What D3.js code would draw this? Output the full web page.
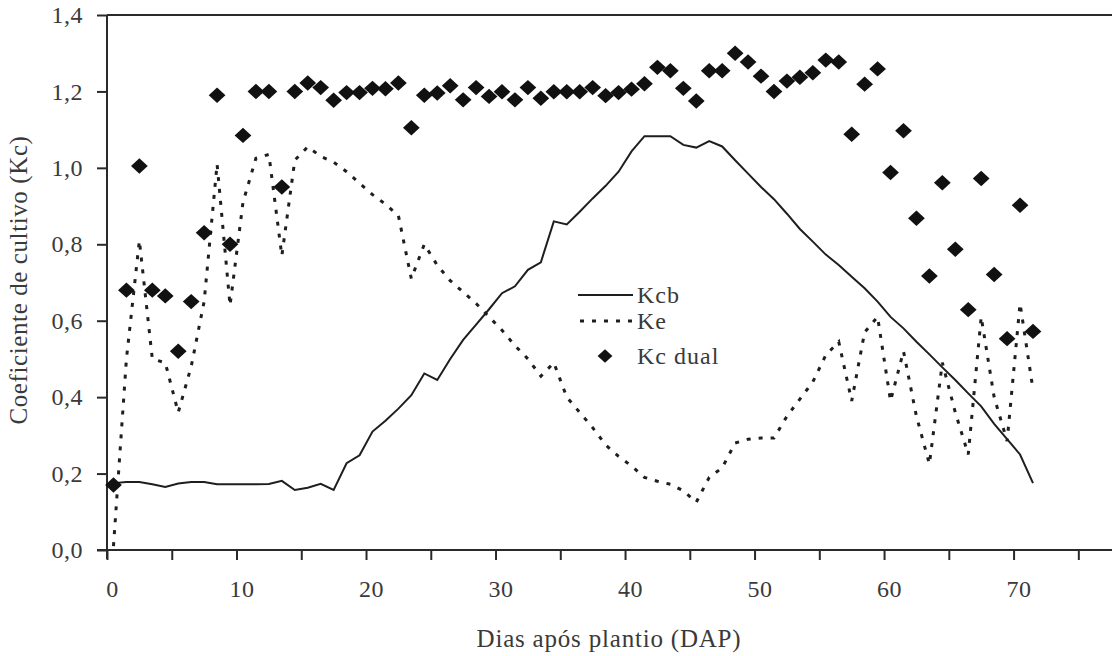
<!DOCTYPE html>
<html>
<head>
<meta charset="utf-8">
<script src="https://cdn.jsdelivr.net/npm/d3@7"></script>
<style>
  body { margin: 0; background: #fff; }
  svg text { font-family: "Liberation Serif", "DejaVu Serif", serif; fill: #3a3a3a; }
</style>
</head>
<body>
<svg id="chart" width="1112" height="656"></svg>
<script>
// Dias após plantio (centro de cada dia)
const dias = [0.5, 1.5, 2.5, 3.5, 4.5, 5.5, 6.5, 7.5, 8.5, 9.5,
  10.5, 11.5, 12.5, 13.5, 14.5, 15.5, 16.5, 17.5, 18.5, 19.5,
  20.5, 21.5, 22.5, 23.5, 24.5, 25.5, 26.5, 27.5, 28.5, 29.5,
  30.5, 31.5, 32.5, 33.5, 34.5, 35.5, 36.5, 37.5, 38.5, 39.5,
  40.5, 41.5, 42.5, 43.5, 44.5, 45.5, 46.5, 47.5, 48.5, 49.5,
  50.5, 51.5, 52.5, 53.5, 54.5, 55.5, 56.5, 57.5, 58.5, 59.5,
  60.5, 61.5, 62.5, 63.5, 64.5, 65.5, 66.5, 67.5, 68.5, 69.5,
  70.5, 71.5];

const kcb = [0.175, 0.178, 0.178, 0.172, 0.165, 0.174, 0.178, 0.178, 0.172, 0.172,
  0.172, 0.172, 0.173, 0.181, 0.157, 0.163, 0.173, 0.157, 0.227, 0.248,
  0.31, 0.338, 0.37, 0.405, 0.462, 0.445, 0.50, 0.55, 0.59, 0.63,
  0.672, 0.69, 0.733, 0.753, 0.86, 0.852, 0.885, 0.92, 0.953, 0.99,
  1.043, 1.083, 1.083, 1.083, 1.06, 1.053, 1.07, 1.056, 1.02, 0.985,
  0.95, 0.918, 0.88, 0.84, 0.807, 0.773, 0.746, 0.715, 0.685, 0.65,
  0.61, 0.58, 0.545, 0.512, 0.478, 0.445, 0.41, 0.376, 0.33, 0.29,
  0.25, 0.175];

const ke = [0.01, 0.50, 0.81, 0.50, 0.49, 0.36, 0.48, 0.65, 1.01, 0.64,
  0.91, 1.025, 1.035, 0.77, 1.02, 1.055, 1.03, 1.015, 0.99, 0.96,
  0.93, 0.905, 0.875, 0.71, 0.80, 0.745, 0.705, 0.675, 0.645, 0.61,
  0.575, 0.535, 0.50, 0.455, 0.49, 0.40, 0.36, 0.32, 0.275, 0.245,
  0.22, 0.19, 0.18, 0.172, 0.155, 0.125, 0.19, 0.215, 0.28, 0.29,
  0.293, 0.293, 0.35, 0.395, 0.44, 0.51, 0.545, 0.39, 0.57, 0.61,
  0.39, 0.52, 0.35, 0.225, 0.49, 0.36, 0.25, 0.61, 0.40, 0.285,
  0.645, 0.42];

const kcDual = [0.17, 0.68, 1.005, 0.68, 0.665, 0.52, 0.65, 0.83, 1.19, 0.80,
  1.085, 1.20, 1.20, 0.95, 1.20, 1.222, 1.21, 1.177, 1.197, 1.197,
  1.208, 1.207, 1.222, 1.105, 1.19, 1.196, 1.215, 1.178, 1.21, 1.187,
  1.199, 1.178, 1.21, 1.182, 1.199, 1.199, 1.199, 1.21, 1.189, 1.197,
  1.206, 1.22, 1.263, 1.254, 1.208, 1.175, 1.254, 1.254, 1.30, 1.277,
  1.24, 1.20, 1.227, 1.237, 1.249, 1.282, 1.277, 1.088, 1.219, 1.259,
  0.988, 1.097, 0.868, 0.717, 0.961, 0.787, 0.629, 0.972, 0.721, 0.553,
  0.902, 0.572];

const yTicks = [0, 0.2, 0.4, 0.6, 0.8, 1.0, 1.2, 1.4];
const xTicks = [0, 5, 10, 15, 20, 25, 30, 35, 40, 45, 50, 55, 60, 65, 70, 75];
const xLabels = [0, 10, 20, 30, 40, 50, 60, 70];
const legendItems = ['Kcb', 'Ke', 'Kc dual'];

const ink = '#1e1e1e';
const svg = d3.select('#chart');

const x = d3.scaleLinear().domain([0, 77.6]).range([107, 1112]);
const y = d3.scaleLinear().domain([0, 1.4]).range([550, 15]);

const virgula = d3.formatLocale({ decimal: ',', thousands: '.', grouping: [3], currency: ['', ''] });
const fmtY = virgula.format('.1f');

// top frame line
svg.append('line')
  .attr('x1', x(0)).attr('x2', 1112)
  .attr('y1', y(1.4)).attr('y2', y(1.4))
  .attr('stroke', '#2a2a2a').attr('stroke-width', 2);

// y axis
const yAxis = svg.append('g')
  .attr('transform', 'translate(' + x(0) + ',0)')
  .call(d3.axisLeft(y).tickValues(yTicks).tickSize(10).tickSizeOuter(0).tickPadding(14).tickFormat(fmtY));
yAxis.select('.domain').attr('stroke', '#2a2a2a').attr('stroke-width', 2)
  .attr('d', 'M0,' + y(1.4) + 'V' + (y(0) + 9));
yAxis.selectAll('.tick line').attr('stroke', '#2a2a2a').attr('stroke-width', 2);
yAxis.selectAll('.tick text').style('font-size', '24px').style('font-family', '"Liberation Serif", serif')
  .style('letter-spacing', '0.5px').attr('fill', '#3a3a3a');

// x axis
const xAxis = svg.append('g')
  .attr('transform', 'translate(0,' + y(0) + ')')
  .call(d3.axisBottom(x).tickValues(xTicks).tickSize(10).tickSizeOuter(0).tickPadding(20)
    .tickFormat(d => xLabels.includes(d) ? d : ''));
xAxis.select('.domain').attr('stroke', '#2a2a2a').attr('stroke-width', 2)
  .attr('d', 'M' + (x(0) - 10) + ',0H1112');
xAxis.selectAll('.tick line').attr('stroke', '#2a2a2a').attr('stroke-width', 2);
xAxis.selectAll('.tick text').style('font-size', '24px').style('font-family', '"Liberation Serif", serif')
  .style('letter-spacing', '0.5px').attr('fill', '#3a3a3a').attr('dx', 5);

// axis titles
svg.append('text')
  .attr('transform', 'translate(27,' + 280 + ') rotate(-90)')
  .attr('text-anchor', 'middle')
  .style('font-size', '25px')
  .style('letter-spacing', '0.6px')
  .text('Coeficiente de cultivo (Kc)');

svg.append('text')
  .attr('x', 609).attr('y', 647)
  .attr('text-anchor', 'middle')
  .style('font-size', '25px')
  .style('letter-spacing', '0.8px')
  .text('Dias após plantio (DAP)');

// series
const linha = series => d3.line()
  .x((d, i) => x(dias[i]))
  .y(d => y(d))(series);

svg.append('path')
  .attr('d', linha(kcb))
  .attr('fill', 'none').attr('stroke', ink).attr('stroke-width', 2);

svg.append('path')
  .attr('d', linha(ke))
  .attr('fill', 'none').attr('stroke', ink).attr('stroke-width', 3)
  .attr('stroke-dasharray', '4,8');

const losango = d3.symbol(d3.symbolSquare, 140);
svg.append('g').selectAll('path')
  .data(kcDual)
  .join('path')
  .attr('d', losango)
  .attr('transform', (d, i) => 'translate(' + x(dias[i]) + ',' + y(d) + ') scale(1,0.92) rotate(45)')
  .attr('fill', '#111');

// legend
const lg = svg.append('g');
const rows = [295, 321, 356];
lg.append('line').attr('x1', 578).attr('x2', 633).attr('y1', rows[0]).attr('y2', rows[0])
  .attr('stroke', ink).attr('stroke-width', 2);
lg.append('line').attr('x1', 580).attr('x2', 633).attr('y1', rows[1]).attr('y2', rows[1])
  .attr('stroke', ink).attr('stroke-width', 3).attr('stroke-dasharray', '4,8');
lg.append('path').attr('d', d3.symbol(d3.symbolSquare, 110))
  .attr('transform', 'translate(605,' + rows[2] + ') scale(1,0.9) rotate(45)')
  .attr('fill', '#111');
lg.selectAll('text')
  .data(legendItems)
  .join('text')
  .attr('x', 637)
  .attr('y', (d, i) => rows[i])
  .attr('dy', '0.35em')
  .style('font-size', '24px')
  .style('letter-spacing', '1px')
  .text(d => d);
</script>
</body>
</html>
